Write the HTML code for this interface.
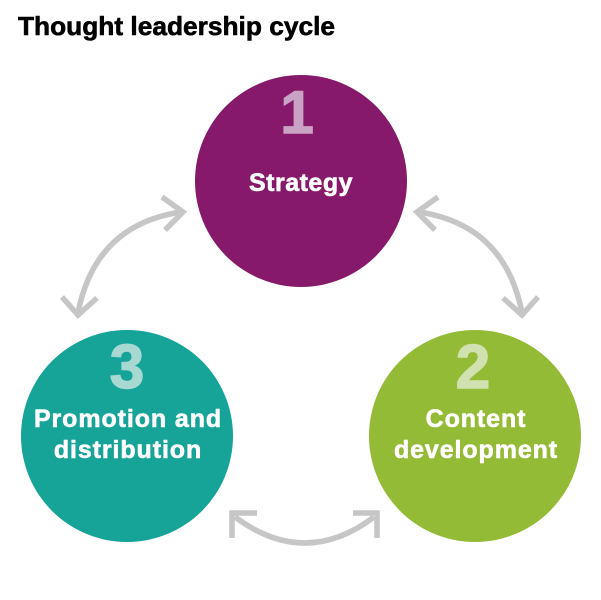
<!DOCTYPE html>
<html>
<head>
<meta charset="utf-8">
<style>
html,body{margin:0;padding:0;background:#fff;}
svg{display:block;}
</style>
</head>
<body>
<svg width="601" height="600" viewBox="0 0 601 600" xmlns="http://www.w3.org/2000/svg">
  <rect width="601" height="600" fill="#ffffff"/>
  <text x="18" y="35" font-family="Liberation Sans, Arial, sans-serif" font-weight="bold" font-size="26" fill="#000" stroke="#000" stroke-width="0.6" textLength="317" lengthAdjust="spacingAndGlyphs">Thought leadership cycle</text>

  <!-- arrows -->
  <g fill="none" stroke="#c6c6c6" stroke-width="5.5" stroke-linecap="butt" stroke-linejoin="miter">
    <path d="M78 313 Q95 225 181 212"/>
    <polyline points="162,197 183,212 165,230"/>
    <polyline points="62,297 78,315 97,298"/>

    <path d="M522 313 Q505 225 419 212"/>
    <polyline points="438,197 417,212 435,230"/>
    <polyline points="538,297 522,315 503,298"/>

    <path d="M235 517 Q305 569 374 517"/>
    <polyline points="257,513 232,513 232,538"/>
    <polyline points="353,513 377,513 377,538"/>
  </g>

  <!-- circles -->
  <circle cx="301" cy="181" r="106" fill="#86196a"/>
  <circle cx="127" cy="436" r="106" fill="#16a398"/>
  <circle cx="475" cy="436" r="106" fill="#94bb36"/>

  <g font-family="Liberation Sans, Arial, sans-serif" font-weight="bold" text-anchor="middle">
    <text x="297" y="133" font-size="60" fill="#c9a2c4" stroke="#c9a2c4" stroke-width="1.5">1</text>
    <text x="301" y="191" font-size="25" fill="#fff" stroke="#fff" stroke-width="0.6" letter-spacing="0.5">Strategy</text>

    <text x="127" y="388" font-size="62" fill="#a8d8d2" stroke="#a8d8d2" stroke-width="1.5">3</text>
    <text x="128" y="427" font-size="25" fill="#fff" stroke="#fff" stroke-width="0.6" letter-spacing="0.9">Promotion and</text>
    <text x="128" y="458" font-size="25" fill="#fff" stroke="#fff" stroke-width="0.6" letter-spacing="0.9">distribution</text>

    <text x="473" y="388" font-size="62" fill="#d0e2b0" stroke="#d0e2b0" stroke-width="1.5">2</text>
    <text x="476" y="427" font-size="25" fill="#fff" stroke="#fff" stroke-width="0.6" letter-spacing="0.9">Content</text>
    <text x="476" y="458" font-size="25" fill="#fff" stroke="#fff" stroke-width="0.6" letter-spacing="0.9">development</text>
  </g>
</svg>
</body>
</html>
